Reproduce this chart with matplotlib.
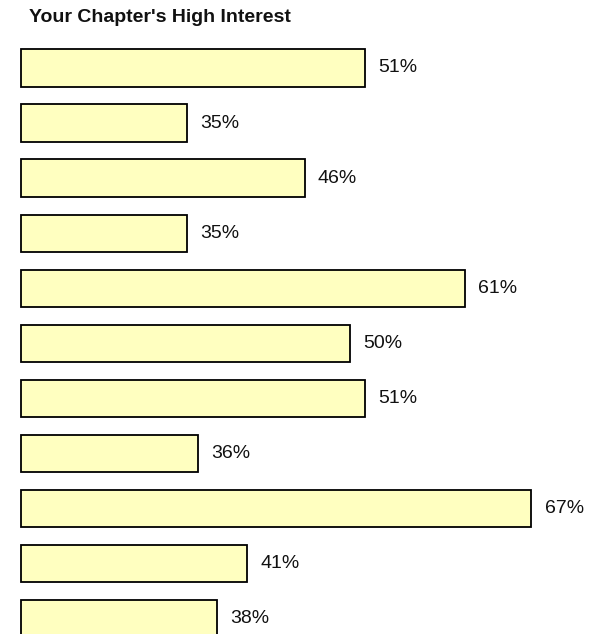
import matplotlib
matplotlib.use("Agg")
import matplotlib.pyplot as plt

# Values (percent, top to bottom);
# the printed labels are the rounded figures shown next to each bar
values = [51.5, 34.7, 45.8, 34.7, 60.9, 50.1, 51.5, 35.7, 67.2, 40.4, 37.5]
labels = ["51%", "35%", "46%", "35%", "61%", "50%", "51%", "36%", "67%", "41%", "38%"]
title = "Your Chapter's High Interest"

# The value axis in the reference does not start at zero
base = 19.04
x_min = 18.85
x_max = 73.76

plt.rcParams['font.family'] = ['Liberation Sans', 'DejaVu Sans']

fig = plt.figure(figsize=(6.01, 6.34), dpi=100)
ax = fig.add_axes([19 / 601, 0, 582 / 601, 594 / 634])

positions = list(range(len(values)))
widths = [v - base for v in values]
ax.barh(positions, widths, left=base, height=0.673,
        color='#FFFFC0', edgecolor='black', linewidth=1.3)

for pos, v, lab in zip(positions, values, labels):
    ax.annotate(lab, xy=(v, pos), xytext=(9.5, 0), textcoords='offset points',
                va='center', ha='left', fontsize=14, color='#111111')

ax.set_xlim(x_min, x_max)
ax.set_ylim(10.29, -0.509)
ax.axis('off')

fig.text(29 / 601, 1 - 22 / 634, title, fontsize=14, fontweight='bold',
         va='baseline', ha='left', color='#111111')

fig.savefig("out.png", dpi=100)
